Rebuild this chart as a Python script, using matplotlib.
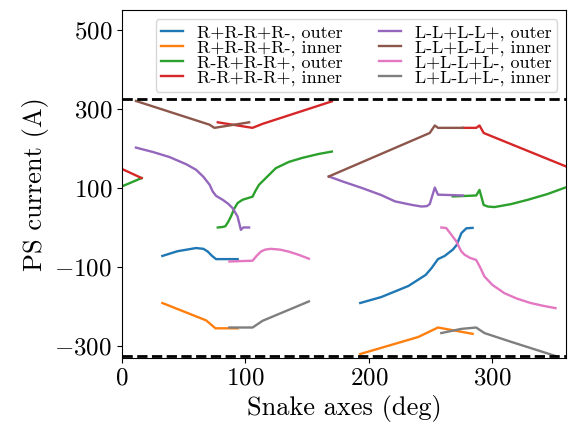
import numpy as np
import matplotlib
matplotlib.use("Agg")
from matplotlib import pyplot as plt

plt.rcParams['font.family'] = 'serif'
plt.rcParams['font.serif'] = ['cmr10']
plt.rcParams['mathtext.fontset'] = 'cm'
plt.rcParams['axes.formatter.use_mathtext'] = True
plt.rcParams['axes.unicode_minus'] = True

nan = np.nan

# R+R-R+R-, outer
blue_x = [32.7, 45, 60, 66, 69.5, 73, 76.2, 85, 93.7, nan,
          193, 210, 221, 232, 240, 246, 250.7, 256, 261.4, 268, 271, 275, 279, 284]
blue_y = [-72, -60, -52, -54, -61, -72, -80, -80, -80, nan,
          -191, -176, -162, -148, -132, -120, -103, -80, -72, -56, -45, -14, -2, -1]

# R+R-R+R-, inner
orange_x = [32.7, 68.2, 75.7, 93.7, nan, 193, 240, 256, 284]
orange_y = [-191, -235, -255, -255, nan, -320, -277, -253, -269]

# R-R+R-R+, outer
green_x = [0, 15.9, nan,
           77.6, 81, 83.7, 86, 88.3, 91, 93.7, 97.6, 105.8, 108, 111, 116.5, 124.6, 135.3, 146, 159.4, 170, nan,
           268, 280, 287, 289.6, 293, 296.3, 301.7, 315, 328.7, 344.6, 360]
green_y = [104, 125, nan,
           0, 1, 3, 14, 28, 48, 62, 70, 78, 92, 108, 125, 150, 166, 176, 186, 192, nan,
           78.5, 80, 81, 95, 57, 53, 51.6, 59, 70, 84.5, 102]

# R-R+R-R+, inner
red_x = [0, 15.9, nan, 77.6, 105.7, 113.8, 170, nan, 276, 287, 289.6, 293, 360]
red_y = [148, 125, nan, 266, 252, 262, 319, nan, 252, 252, 258, 239, 154]

# L-L+L-L+, outer
purple_x = [11.3, 25, 38.6, 52, 60, 66, 71, 73.5, 76.2, 81.6, 86, 89.6, 93.6, 96.3, 98.2, 103, nan,
            167.5, 180, 194.3, 210, 221.2, 235, 242.7, 247, 249.3, 253.4, 256, 266, 276.2]
purple_y = [202, 191, 178, 160, 146, 128, 108, 91, 80, 70, 60, 49, 28, -6, 0, 0, nan,
            129, 115, 100, 82, 66, 57, 53, 54, 59, 101, 83, 82, 81]

# L-L+L-L+, inner
brown_x = [11.3, 70.9, 74.9, 103, nan, 167.5, 249.3, 253.4, 256, 276.2]
brown_y = [320, 260, 252, 266, nan, 129, 239, 258, 252, 252]

# L+L-L+L-, outer
pink_x = [87, 105.8, 109, 112.5, 116, 120.5, 128, 135, 143, 151.4, nan,
          258.7, 262.7, 266, 270.8, 274.8, 277.5, 282, 286.9, 290, 293.6, 300, 309.7, 320, 331, 341, 351.2]
pink_y = [-86, -84, -72, -61, -56, -54, -56, -61, -69, -79, nan,
          0, -1.5, -15, -35, -60, -69, -77, -82, -100, -124, -145, -166, -180, -191, -198, -204]

# L+L-L+L-, inner
gray_x = [87, 105.8, 113.9, 151.4, nan, 258.7, 274.8, 286.9, 293.6, 315, 351.2]
gray_y = [-253, -253, -236, -187, nan, -267, -256.5, -253, -267, -289, -325]

labels = ['R+R-R+R-, outer', 'R+R-R+R-, inner', 'R-R+R-R+, outer', 'R-R+R-R+, inner',
          'L-L+L-L+, outer', 'L-L+L-L+, inner', 'L+L-L+L-, outer', 'L+L-L+L-, inner']
xs = [blue_x, orange_x, green_x, red_x, purple_x, brown_x, pink_x, gray_x]
ys = [blue_y, orange_y, green_y, red_y, purple_y, brown_y, pink_y, gray_y]

limit = 325

fig = plt.figure(figsize=(5.69, 4.36), dpi=100)
ax = fig.add_axes([0.2144, 0.179, 0.781, 0.798])
for i in range(8):
    ax.plot(xs[i], ys[i], color='C%d' % i, lw=1.7, label=labels[i])
ax.axhline(limit, color='k', ls='--', lw=2)
ax.axhline(-limit, color='k', ls='--', lw=2)

ax.set_xlim(0, 360)
ax.set_ylim(-330, 550)
ax.set_xticks([0, 100, 200, 300])
ax.set_yticks([-300, -100, 100, 300, 500])
ax.tick_params(labelsize=18)
ax.set_xlabel('Snake axes (deg)', fontsize=19)
ax.set_ylabel('PS current (A)', fontsize=19)
ax.legend(loc='upper right', ncol=2, fontsize=13, labelspacing=-0.05,
          handlelength=1.2, handletextpad=0.8, columnspacing=2.0, borderpad=0.3)

fig.savefig('out.png', dpi=100)
